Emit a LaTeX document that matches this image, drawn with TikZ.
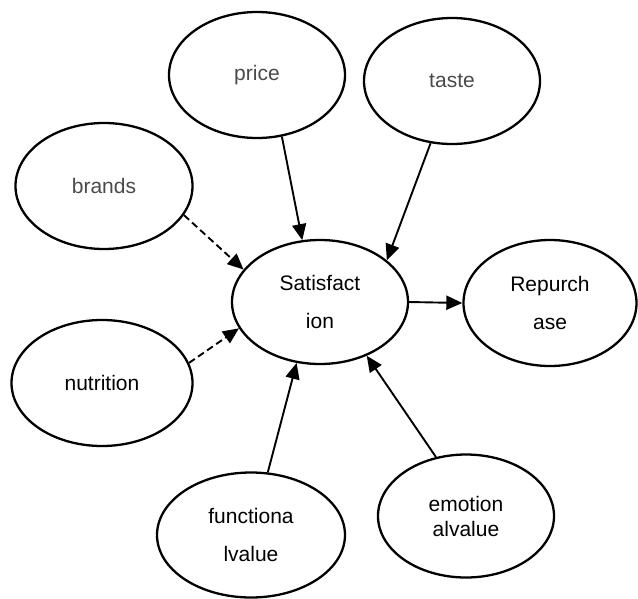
\documentclass[tikz,border=0pt]{standalone}
\usepackage{fontspec}
\setmainfont{Liberation Sans}
\usetikzlibrary{arrows.meta, shapes.geometric}
\definecolor{labelgray}{HTML}{4A4A4A}

\begin{document}
\begin{tikzpicture}[x=1pt, y=-1pt,
    bubble/.style={ellipse, draw=black, line width=2.3pt, inner sep=0pt, minimum width=176pt, minimum height=126pt, align=center, font=\fontsize{21}{38}\selectfont},
    arrow/.style={-{Triangle[length=16pt, width=14pt]}, line width=1.9pt, draw=black},
    dasharrow/.style={arrow, dash pattern=on 7pt off 4pt}
]
\useasboundingbox (0,0) rectangle (638,598);
\node[bubble, text=labelgray] (price) at (257, 75) {price};
\node[bubble, text=labelgray] (taste) at (452, 81) {taste};
\node[bubble, text=labelgray, minimum width=177pt] (brands) at (104, 186) {brands};
\node[bubble, minimum height=124pt] (sat) at (320, 302) {Satisfact\\ion};
\node[bubble, minimum width=173pt] (repurchase) at (550, 303) {Repurch\\ase};
\node[bubble, minimum width=181pt] (nutrition) at (102, 383) {nutrition};
\node[bubble, minimum width=188pt, minimum height=125pt] (functional) at (251, 535) {functiona\\lvalue};
\node[bubble, minimum height=123pt, font=\fontsize{21}{25}\selectfont] (emotional) at (466, 516) {emotion\\alvalue};
\draw[arrow] (price.-68) -- (sat.106);
\draw[arrow] (taste.-109) -- (sat.32);
\draw[dasharrow] (brands.-20) -- (sat.157);
\draw[dasharrow] (nutrition.13) -- (sat.-162);
\draw[arrow] (sat.east) -- (repurchase.west);
\draw[arrow] (functional.75) -- (sat.-111);
\draw[arrow] (emotional.117) -- (sat.-49);
\end{tikzpicture}
\end{document}
